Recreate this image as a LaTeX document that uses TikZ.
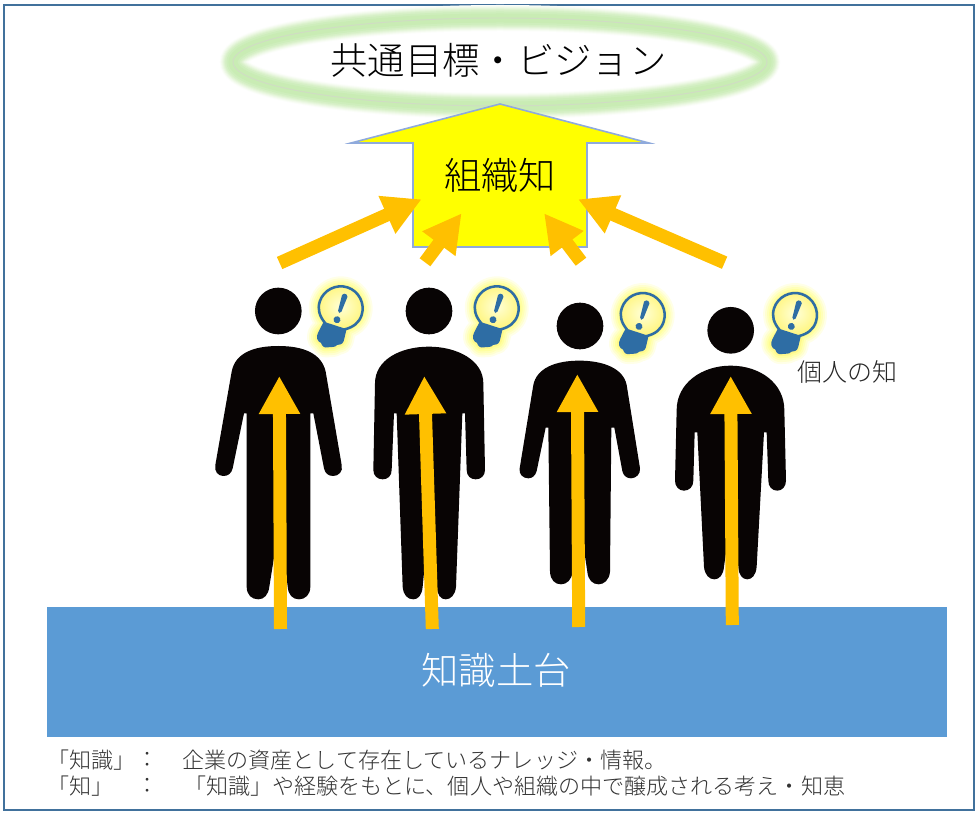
\documentclass[tikz,border=0pt]{standalone}
\usepackage{fontspec}
\IfFontExistsTF{Noto Sans CJK JP Light}{\setmainfont{Noto Sans CJK JP Light}}{\setmainfont{Noto Sans CJK JP}}
\usetikzlibrary{arrows.meta,shapes.geometric}
\definecolor{frameblue}{HTML}{41719C}
\definecolor{baseblue}{HTML}{5B9BD5}
\definecolor{orangearrow}{HTML}{FFC000}
\definecolor{bulbblue}{HTML}{2E6DA4}
\definecolor{yellowedge}{HTML}{8FAADC}
\definecolor{yellowfill}{HTML}{FFFF00}
\definecolor{bodyblack}{HTML}{080404}
\definecolor{bulbinner}{HTML}{FFFFD8}
\definecolor{bulbouter}{HTML}{FFF57A}
\definecolor{ringline}{HTML}{D0DCC4}
\newcommand{\bulbshape}{(-10,19) .. controls (-18,14) and (-22,8) .. (-22,0) .. controls (-22,-12) and (-12,-22) .. (0,-22) .. controls (12,-22) and (22,-12) .. (22,0) .. controls (22,8) and (18,14) .. (10,19)}
\newcommand{\bulbbase}{(-12,18) -- (12,18) -- (13,30) .. controls (13,34) and (10,35) .. (8,36) .. controls (6,40) and (3,39) .. (0,41) .. controls (-3,43) and (-6,42) .. (-8,39) .. controls (-12,39) and (-15,35) .. (-14,30) -- cycle}
\newcommand{\lightbulb}[2]{%
  \begin{scope}[shift={(#1,#2)},rotate=-18]
    \foreach \w/\c in {20/FFFFE8,16/FFFFD0,12/FFFFB8,8/FFFFA0,4/FFF98C}{
      \definecolor{halo}{HTML}{\c}
      \fill[halo,draw=halo,line width=.75pt*\w,line join=round] \bulbshape -- \bulbbase;
    }
    \shade[inner color=bulbinner,outer color=bulbouter] (0,0) circle [radius=16.5pt];
    \draw[bulbblue,line width=1.9pt] \bulbshape;
    \fill[bulbblue] \bulbbase;
    \fill[bulbblue,rounded corners=1.4pt] (-3,-15) -- (3,-15) -- (1.6,5) -- (-1.6,5) -- cycle;
    \fill[bulbblue] (0,12) circle [radius=2.6pt];
  \end{scope}}
\tikzset{
  x=.75pt,y=-.75pt,
  figure/.style={fill=bodyblack},
  uparrow/.style={draw=orangearrow,line width=9.75pt,-{Triangle[length=28.5pt,width=29pt,fill=orangearrow]}},
  slantarrow/.style={draw=orangearrow,line width=10pt,-{Triangle[length=28.5pt,width=29pt,fill=orangearrow]}},
  bigtext/.style={font=\fontsize{28pt}{30pt}\selectfont,inner sep=0pt},
  smalltext/.style={font=\fontsize{16.55pt}{18pt}\selectfont,inner sep=0pt,text=black!80,anchor=west},
}
\begin{document}
\begin{tikzpicture}
\useasboundingbox (0,0) rectangle (978,816);
\fill[white] (0,0) rectangle (978,816);
\draw[frameblue,line width=1.6pt] (4,5) rectangle (974,810);

% vision ellipse with glow
\foreach \w/\c in {26/FBFEF9,24/F5FBF0,22/EEF9E6,20/E6F6DB,18/DEF3D0,16/D6F0C6,13/CEEEBC,9/C9ECB4}{
  \definecolor{glow}{HTML}{\c}
  \draw[glow,line width=.75pt*\w] (500,62) ellipse [x radius=200.25pt,y radius=33pt];
}
\node[ellipse,draw=ringline,line width=.7pt,minimum width=400.5pt,minimum height=66pt,inner sep=0pt] (vision) at (500,62) {};
\node[bigtext] (visiontext) at (498.5,60) {共通目標・ビジョン};

% bulbs
\lightbulb{340.7}{308.3}
\lightbulb{496.7}{308.3}
\lightbulb{642.7}{315}
\lightbulb{795}{315}

% person 1
\fill[figure] (278.3,311) circle [radius=17.5pt];
\begin{scope}[shift={(200,270)},scale=1/3]
\fill[figure] (235,228) .. controls (310,228) and (365,250) .. (377,305) -- (425,585)
  .. controls (430,605) and (415,618) .. (400,618) .. controls (385,618) and (375,610) .. (372,595)
  -- (340,430) -- (331,430) -- (331,950) .. controls (331,975) and (315,988) .. (297,988) .. controls (278,988) and (265,975) .. (263,950)
  -- (240,750) -- (208,950) .. controls (205,975) and (192,988) .. (175,988) .. controls (155,988) and (140,975) .. (140,950)
  -- (140,430) -- (132,430) -- (98,595) .. controls (94,610) and (85,618) .. (70,618) .. controls (55,618) and (42,605) .. (46,585)
  -- (95,305) .. controls (105,250) and (160,228) .. (235,228) -- cycle;
\end{scope}

% person 2
\fill[figure] (429,311) circle [radius=17.5pt];
\begin{scope}[shift={(200,270)},scale=1/3]
\fill[figure] (687,230) .. controls (770,230) and (850,270) .. (850,340) -- (855,600)
  .. controls (855,618) and (842,628) .. (827,628) .. controls (812,628) and (800,618) .. (800,600)
  -- (795,430) -- (787,430) -- (768,950) .. controls (766,975) and (752,988) .. (737,988) .. controls (722,988) and (712,975) .. (710,950)
  -- (690,720) -- (668,950) .. controls (666,975) and (655,988) .. (640,988) .. controls (622,988) and (610,975) .. (608,950)
  -- (590,430) -- (582,430) -- (575,600) .. controls (575,618) and (563,628) .. (548,628) .. controls (533,628) and (520,618) .. (520,600)
  -- (525,340) .. controls (525,270) and (600,230) .. (687,230) -- cycle;
\end{scope}

% person 3
\fill[figure] (580,326) circle [radius=17.5pt];
\begin{scope}[shift={(500,270)},scale=1/3]
\fill[figure] (238,272) .. controls (310,272) and (370,295) .. (380,345) -- (420,595)
  .. controls (422,612) and (408,625) .. (393,625) .. controls (380,625) and (370,617) .. (367,603)
  -- (343,473) -- (334,473) -- (330,905) .. controls (328,930) and (312,943) .. (296,943) .. controls (278,943) and (264,930) .. (262,905)
  -- (240,760) -- (218,905) .. controls (215,930) and (200,943) .. (183,943) .. controls (165,943) and (151,930) .. (150,905)
  -- (145,473) -- (137,473) -- (110,603) .. controls (106,617) and (97,625) .. (85,625) .. controls (68,625) and (56,612) .. (59,595)
  -- (100,345) .. controls (110,295) and (165,272) .. (238,272) -- cycle;
\end{scope}

% person 4
\fill[figure] (730.7,330.3) circle [radius=17.5pt];
\begin{scope}[shift={(500,270)},scale=1/3]
\fill[figure] (692,287) .. controls (780,287) and (853,340) .. (853,420) -- (858,632)
  .. controls (858,650) and (846,662) .. (832,662) .. controls (816,662) and (805,650) .. (805,632)
  -- (800,487) -- (792,487) -- (770,890) .. controls (768,915) and (756,928) .. (742,928) .. controls (727,928) and (716,915) .. (715,890)
  -- (695,730) -- (672,890) .. controls (670,915) and (658,928) .. (643,928) .. controls (628,928) and (614,915) .. (612,890)
  -- (592,487) -- (584,487) -- (580,632) .. controls (580,650) and (568,662) .. (552,662) .. controls (537,662) and (525,650) .. (525,632)
  -- (530,420) .. controls (530,340) and (605,287) .. (692,287) -- cycle;
\end{scope}

\node[font=\fontsize{18.75pt}{20pt}\selectfont,inner sep=0pt,text=black!85] (personal) at (847.5,372) {個人の知};

% base block
\node[fill=baseblue,minimum width=675pt,minimum height=97.5pt,inner sep=0pt,anchor=north west] (base) at (47,607) {};
\node[bigtext,text=white] (basetext) at (496,670) {知識土台};

% large yellow arrow
\fill[yellowfill,draw=yellowedge,line width=1.2pt,miter limit=20] (500,104) -- (649,143) -- (587,143) -- (587,247) -- (413,247) -- (413,143) -- (351,143) -- cycle;
\node[bigtext] (org) at (500,175) {組織知};

% vertical arrows
\coordinate (t1) at (280.5,629); \coordinate (h1) at (279.3,376);
\coordinate (t2) at (432.3,629); \coordinate (h2) at (424.3,376);
\coordinate (t3) at (578.7,627); \coordinate (h3) at (577.3,374);
\coordinate (t4) at (732.3,625); \coordinate (h4) at (730.7,376);
\draw[uparrow] (t1) -- (h1);
\draw[uparrow] (t2) -- (h2);
\draw[uparrow] (t3) -- (h3);
\draw[uparrow] (t4) -- (h4);

% slanted arrows
\coordinate (s1) at (279.6,263); \coordinate (e1) at (421.6,199.3);
\coordinate (s2) at (425,262.3); \coordinate (e2) at (461.6,213.3);
\coordinate (s3) at (581,261.7); \coordinate (e3) at (544.1,213.3);
\coordinate (s4) at (724.6,262.7); \coordinate (e4) at (578.1,199.3);
\draw[slantarrow] (s1) -- (e1);
\draw[slantarrow] (s2) -- (e2);
\draw[slantarrow] (s3) -- (e3);
\draw[slantarrow] (s4) -- (e4);

% notes
\node[smalltext] (n1a) at (47,760) {「知識」};
\node[smalltext,anchor=center] (n1b) at (148,760) {：};
\node[smalltext] (n1c) at (182,760) {企業の資産として存在しているナレッジ・情報。};
\node[smalltext] (n2a) at (47,786) {「知」};
\node[smalltext,anchor=center] (n2b) at (148,786) {：};
\node[smalltext] (n2c) at (184,786) {「知識」や経験をもとに、個人や組織の中で醸成される考え・知恵};
\end{tikzpicture}
\end{document}
